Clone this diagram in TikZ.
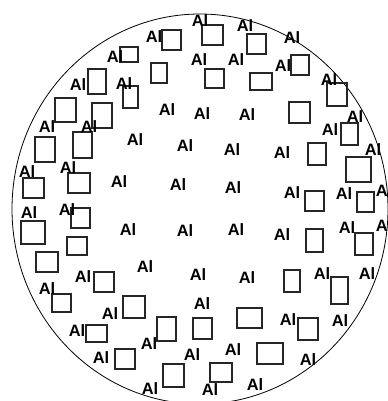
\documentclass[tikz,border=0pt]{standalone}
\usepackage{fontspec}
\setmainfont{Liberation Sans}
\begin{document}
\begin{tikzpicture}[x=1bp,y=-1bp,
  altext/.style={font=\fontsize{16.5}{16.5}\selectfont\bfseries, inner sep=0pt},
  pad/.style={draw=black!85, line width=1.1bp},
  wafer/.style={draw=black, line width=0.8bp}]
  \useasboundingbox (0,0) rectangle (388,401);
  \clip (0,0) rectangle (388,401);

  % wafer outline
  \draw[wafer] (200,209) ellipse (188bp and 195bp);

  % bond pads
  \foreach \xa/\ya/\xb/\yb in {162/30/181/50, 120/47/138/62, 151/63/167/83,
      88/69/106/94, 123/86/138/108, 55/98/76/122, 92/103/112/128,
      202/25/223/45, 247/34/266/54, 291/55/309/75, 205/69/224/88,
      250/73/272/90, 327/83/347/106, 289/102/310/123, 341/123/358/145,
      308/143/326/165, 346/157/371/182, 305/191/324/211, 357/192/374/212,
      306/229/323/252, 355/233/373/255, 35/137/55/162, 73/132/92/158,
      23/178/44/198, 68/173/90/193, 21/221/45/244, 71/208/90/228,
      67/237/87/255, 36/252/58/272, 94/272/114/292, 52/294/71/312,
      123/296/145/318, 86/325/107/342, 157/317/176/341, 115/349/135/369,
      163/364/184/387, 193/318/212/339, 284/270/300/292, 331/277/348/304,
      237/308/262/328, 298/318/318/340, 257/343/283/364, 210/363/232/382}
    \draw[pad] (\xa,\ya) rectangle (\xb,\yb);

  % Al labels
  \foreach \x/\y [count=\i] in {154/37, 115/57, 200/21, 245/26, 292/38,
      199/60, 236/60, 283/66, 78/85, 124/84, 329/80, 167/110, 202/114,
      247/115, 355/117, 47/127, 89/127, 330/130, 135/140, 185/146,
      232/150, 282/153, 373/150, 27/172, 68/168, 119/182, 178/185,
      233/188, 292/193, 344/194, 384/191, 29/213, 67/210, 128/230,
      185/231, 236/230, 282/235, 347/228, 384/226, 145/267, 83/277,
      47/289, 198/275, 247/278, 322/274, 367/274, 110/314, 202/304,
      288/320, 340/321, 77/331, 149/344, 101/358, 192/355, 233/350,
      308/360, 150/389, 210/390, 255/385}
    \node[altext] (al\i) at (\x,\y) {Al};
\end{tikzpicture}
\end{document}
